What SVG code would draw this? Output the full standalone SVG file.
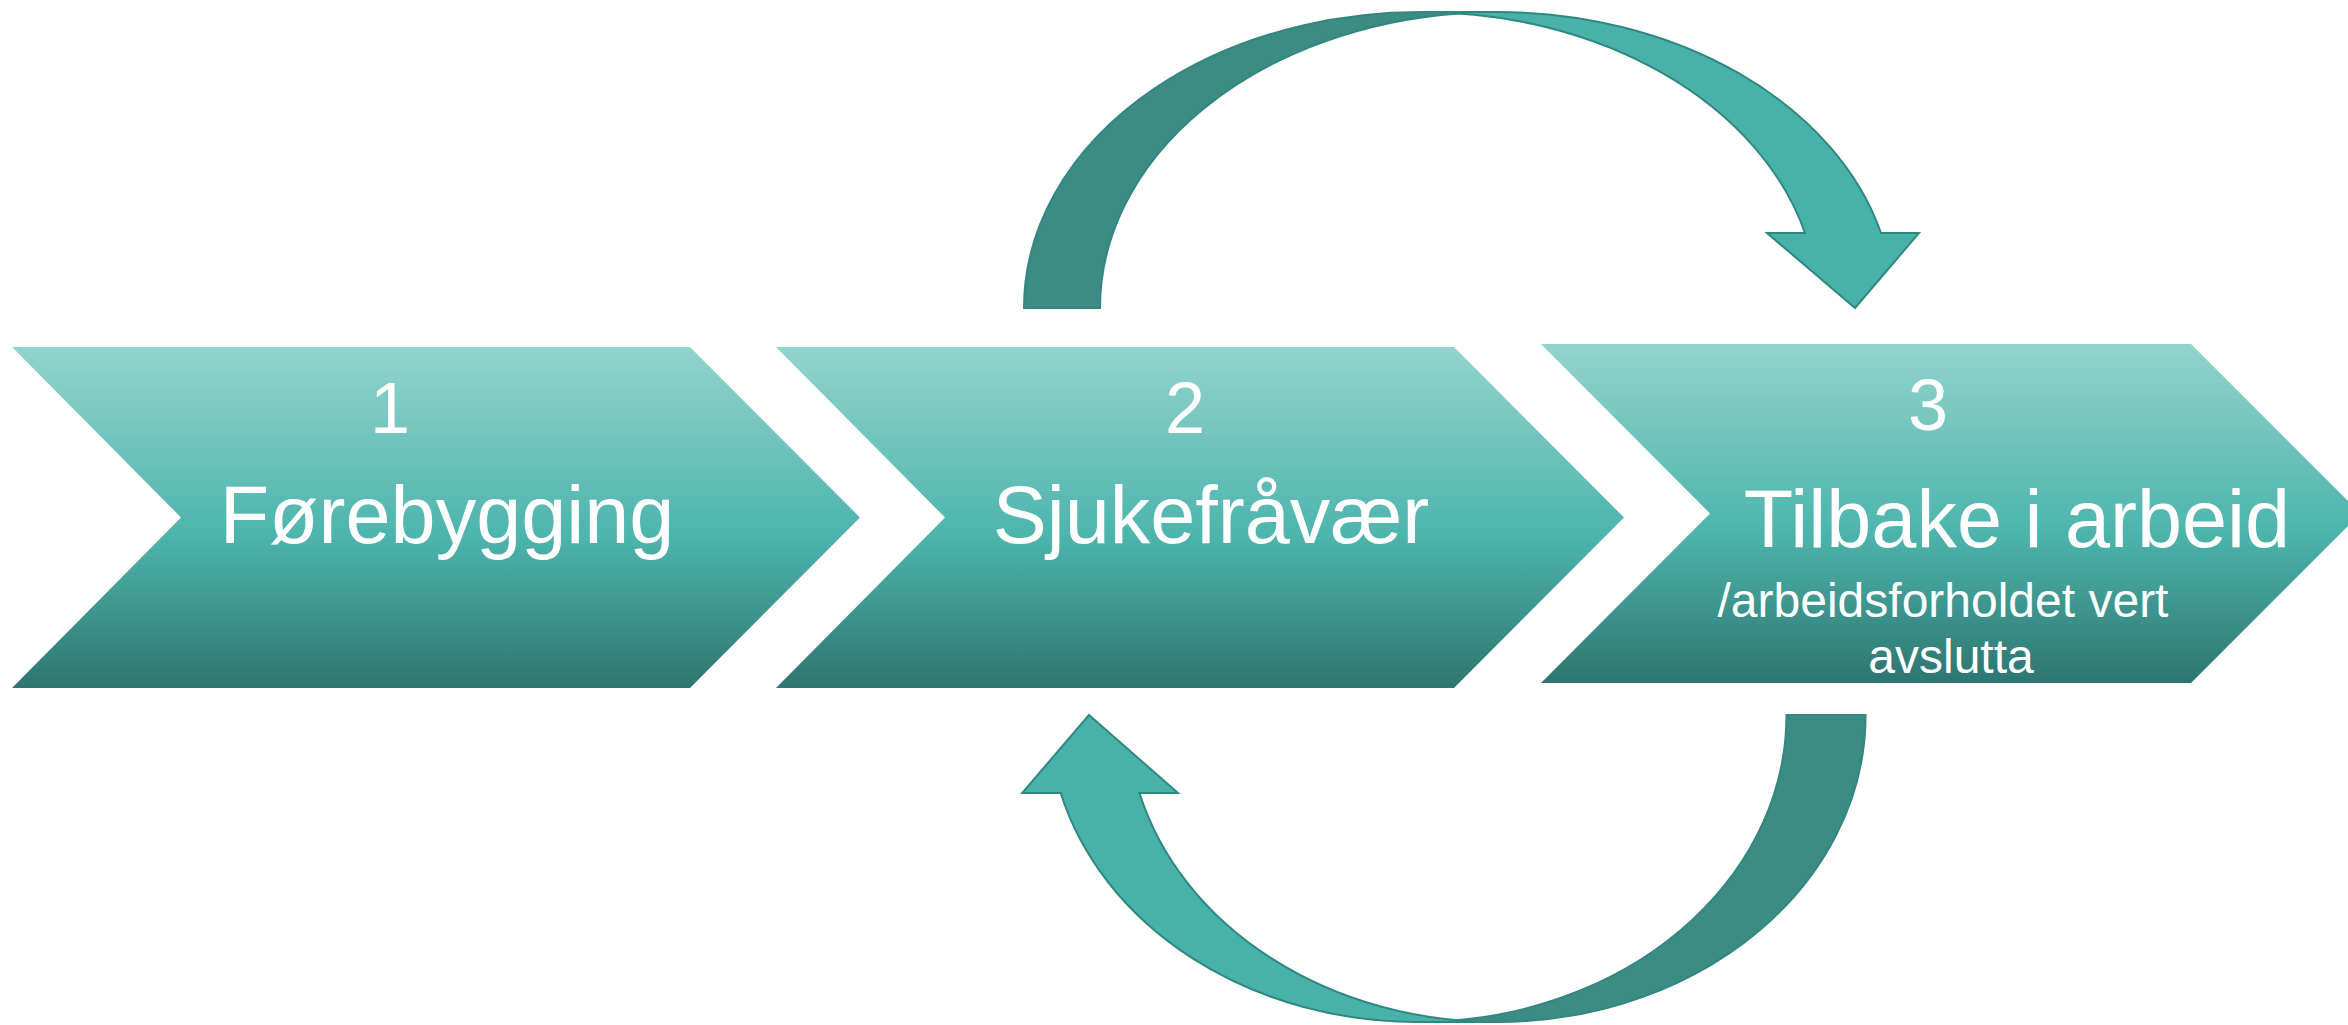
<svg xmlns="http://www.w3.org/2000/svg" width="2348" height="1025" viewBox="0 0 2348 1025">
<defs>
<linearGradient id="chev" x1="0" y1="0" x2="0" y2="1">
<stop offset="0" stop-color="#93D3CD"/>
<stop offset="0.55" stop-color="#4DB5AD"/>
<stop offset="1" stop-color="#2E7570"/>
</linearGradient>
</defs>
<style>
.chev{fill:url(#chev);}
.num{font-family:"Liberation Sans",Arial,sans-serif;font-size:72px;fill:#FFFFFF;text-anchor:middle;}
.lbl{font-family:"Liberation Sans",Arial,sans-serif;font-size:81px;fill:#FFFFFF;text-anchor:middle;}
.sub{font-family:"Liberation Sans",Arial,sans-serif;font-size:48px;fill:#FFFFFF;text-anchor:middle;}
.arrowLight{fill:#48B2AA;stroke:#2F8880;stroke-width:2;stroke-linejoin:miter;}
.arrowDark{fill:#3A8C84;stroke:#348680;stroke-width:2;}
</style>
<rect width="2348" height="1025" fill="#FFFFFF"/>
<g id="connectors">
<g id="arrow-top">
<path class="arrowLight" d="M 1855 308 L 1767 233 L 1805 233 A 397 296 0 0 0 1421 12 L 1497 12 A 397 296 0 0 1 1881 233 L 1919 233 Z"/>
<path class="arrowDark" d="M 1459 13.4 A 397 296 0 0 0 1100 308 L 1024 308 A 397 296 0 0 1 1459 13.4 Z"/>
</g>
<g id="arrow-bottom">
<path class="arrowLight" d="M 1089 715 L 1178 793 L 1139.5 793 A 369 307 0 0 0 1496.6 1022 L 1417.6 1022 A 369 307 0 0 1 1060.7 793 L 1022.2 793 Z"/>
<path class="arrowDark" d="M 1457 1020.2 A 369 307 0 0 0 1786.5 715 L 1865.6 715 A 369 307 0 0 1 1457 1020.2 Z"/>
</g>
</g>
<g id="node1">
<polygon class="chev" points="12,347 690,347 860,517.5 690,688 12,688 181,517.5"/>
<text class="num" x="390" y="433">1</text>
<text class="lbl" x="447" y="543">Førebygging</text>
</g>
<g id="node2">
<polygon class="chev" points="776,347 1454,347 1624,517.5 1454,688 776,688 945,517.5"/>
<text class="num" x="1185" y="433">2</text>
<text class="lbl" x="1211" y="543">Sjukefråvær</text>
</g>
<g id="node3">
<polygon class="chev" points="1541,344 2191,344 2360.5,513.5 2191,683 1541,683 1710,513.5"/>
<text class="num" x="1928" y="430">3</text>
<text class="lbl" x="2017" y="547">Tilbake i arbeid</text>
<text class="sub" x="1943" y="617">/arbeidsforholdet vert</text>
<text class="sub" x="1951" y="673">avslutta</text>
</g>
</svg>
